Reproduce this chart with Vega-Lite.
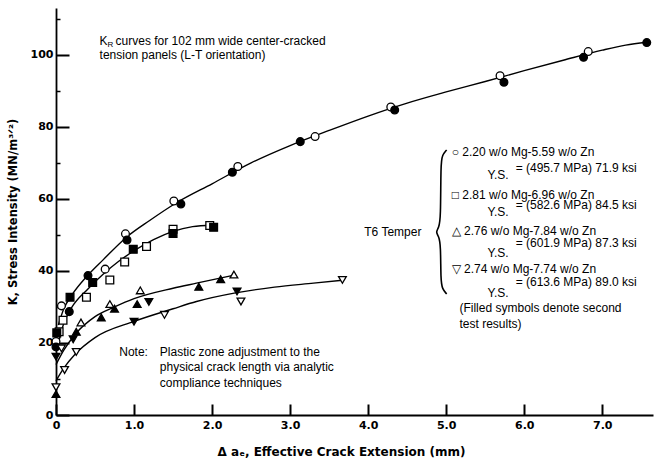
{
  "$schema": "https://vega.github.io/schema/vega-lite/v6.json",
  "width": 597,
  "height": 407,
  "autosize": {"type": "none"},
  "padding": {"left": 56, "top": 8, "right": 1, "bottom": 50},
  "background": "white",
  "config": {"view": {"stroke": null}, "font": "Liberation Sans"},
  "resolve": {"axis": {"y": "independent"}},
  "datasets": {
    "points": [
      {"series": "A", "test": "first", "x": 0, "y": 20.4},
      {"series": "A", "test": "first", "x": 0.07, "y": 30.3},
      {"series": "A", "test": "first", "x": 0.63, "y": 40.5},
      {"series": "A", "test": "first", "x": 0.89, "y": 50.3},
      {"series": "A", "test": "first", "x": 1.51, "y": 59.4},
      {"series": "A", "test": "first", "x": 2.33, "y": 69},
      {"series": "A", "test": "first", "x": 3.32, "y": 77.3},
      {"series": "A", "test": "first", "x": 4.29, "y": 85.5},
      {"series": "A", "test": "first", "x": 5.69, "y": 94.2},
      {"series": "A", "test": "first", "x": 6.82, "y": 100.9},
      {"series": "A", "test": "second", "x": 0, "y": 18.9},
      {"series": "A", "test": "second", "x": 0.17, "y": 28.7},
      {"series": "A", "test": "second", "x": 0.41, "y": 38.7},
      {"series": "A", "test": "second", "x": 0.91, "y": 48.6},
      {"series": "A", "test": "second", "x": 1.6, "y": 58.6},
      {"series": "A", "test": "second", "x": 2.26, "y": 67.4},
      {"series": "A", "test": "second", "x": 3.13, "y": 75.9},
      {"series": "A", "test": "second", "x": 4.34, "y": 84.7},
      {"series": "A", "test": "second", "x": 5.74, "y": 92.4},
      {"series": "A", "test": "second", "x": 6.76, "y": 99.3},
      {"series": "A", "test": "second", "x": 7.57, "y": 103.4},
      {"series": "B", "test": "first", "x": 0.04, "y": 23.1},
      {"series": "B", "test": "first", "x": 0.09, "y": 26.3},
      {"series": "B", "test": "first", "x": 0.39, "y": 32.7},
      {"series": "B", "test": "first", "x": 0.69, "y": 37.5},
      {"series": "B", "test": "first", "x": 0.88, "y": 42.5},
      {"series": "B", "test": "first", "x": 1.16, "y": 46.8},
      {"series": "B", "test": "first", "x": 1.5, "y": 51.6},
      {"series": "B", "test": "first", "x": 1.97, "y": 52.6},
      {"series": "B", "test": "second", "x": 0.01, "y": 22.8},
      {"series": "B", "test": "second", "x": 0.18, "y": 32.7},
      {"series": "B", "test": "second", "x": 0.47, "y": 36.8},
      {"series": "B", "test": "second", "x": 0.99, "y": 46},
      {"series": "B", "test": "second", "x": 1.5, "y": 50.4},
      {"series": "B", "test": "second", "x": 2.02, "y": 52.1},
      {"series": "C", "test": "first", "x": 0.32, "y": 25.7},
      {"series": "C", "test": "first", "x": 0.69, "y": 30.8},
      {"series": "C", "test": "first", "x": 1.08, "y": 34.6},
      {"series": "C", "test": "first", "x": 2.28, "y": 39},
      {"series": "C", "test": "second", "x": 0, "y": 5.8},
      {"series": "C", "test": "second", "x": 0.26, "y": 23.1},
      {"series": "C", "test": "second", "x": 0.58, "y": 27.1},
      {"series": "C", "test": "second", "x": 0.75, "y": 29.5},
      {"series": "C", "test": "second", "x": 1.04, "y": 30.8},
      {"series": "C", "test": "second", "x": 1.83, "y": 35.6},
      {"series": "C", "test": "second", "x": 2.11, "y": 37.7},
      {"series": "D", "test": "first", "x": 0, "y": 7.7},
      {"series": "D", "test": "first", "x": 0.07, "y": 18.5},
      {"series": "D", "test": "first", "x": 0.11, "y": 12.5},
      {"series": "D", "test": "first", "x": 0.26, "y": 17.5},
      {"series": "D", "test": "first", "x": 1.39, "y": 27.8},
      {"series": "D", "test": "first", "x": 2.37, "y": 31.5},
      {"series": "D", "test": "first", "x": 3.67, "y": 37.5},
      {"series": "D", "test": "second", "x": 0, "y": 16.2},
      {"series": "D", "test": "second", "x": 0.22, "y": 21},
      {"series": "D", "test": "second", "x": 1.0, "y": 25.9},
      {"series": "D", "test": "second", "x": 1.19, "y": 31.4},
      {"series": "D", "test": "second", "x": 2.32, "y": 34.3}
    ],
    "curves": [
      {"series": "A", "x": 0.03, "y": 25}, {"series": "A", "x": 0.1, "y": 29.5}, {"series": "A", "x": 0.2, "y": 33.2},
      {"series": "A", "x": 0.4, "y": 38.6}, {"series": "A", "x": 0.6, "y": 43}, {"series": "A", "x": 0.9, "y": 49.3},
      {"series": "A", "x": 1.2, "y": 54}, {"series": "A", "x": 1.55, "y": 59}, {"series": "A", "x": 2.0, "y": 64.2},
      {"series": "A", "x": 2.5, "y": 70}, {"series": "A", "x": 3.0, "y": 74.8}, {"series": "A", "x": 3.5, "y": 79},
      {"series": "A", "x": 4.0, "y": 83}, {"series": "A", "x": 4.5, "y": 86.6}, {"series": "A", "x": 5.0, "y": 89.7},
      {"series": "A", "x": 5.5, "y": 92.6}, {"series": "A", "x": 6.0, "y": 95.6}, {"series": "A", "x": 6.5, "y": 98.5},
      {"series": "A", "x": 7.0, "y": 101.3}, {"series": "A", "x": 7.3, "y": 102.7}, {"series": "A", "x": 7.57, "y": 103.5},
      {"series": "B", "x": 0.02, "y": 19}, {"series": "B", "x": 0.1, "y": 25.5}, {"series": "B", "x": 0.2, "y": 29.8},
      {"series": "B", "x": 0.4, "y": 34.8}, {"series": "B", "x": 0.6, "y": 39}, {"series": "B", "x": 0.8, "y": 42.6},
      {"series": "B", "x": 1.0, "y": 45.6}, {"series": "B", "x": 1.25, "y": 48.7}, {"series": "B", "x": 1.5, "y": 51},
      {"series": "B", "x": 1.75, "y": 52.3}, {"series": "B", "x": 2.0, "y": 52.7},
      {"series": "C", "x": 0, "y": 14}, {"series": "C", "x": 0.1, "y": 18}, {"series": "C", "x": 0.25, "y": 22.5},
      {"series": "C", "x": 0.5, "y": 27.3}, {"series": "C", "x": 0.75, "y": 30}, {"series": "C", "x": 1.0, "y": 32.3},
      {"series": "C", "x": 1.5, "y": 35.2}, {"series": "C", "x": 1.8, "y": 36.6}, {"series": "C", "x": 2.28, "y": 38.8},
      {"series": "D", "x": 0, "y": 9.5}, {"series": "D", "x": 0.1, "y": 13}, {"series": "D", "x": 0.25, "y": 17},
      {"series": "D", "x": 0.5, "y": 21.5}, {"series": "D", "x": 1.0, "y": 26}, {"series": "D", "x": 1.5, "y": 29.5},
      {"series": "D", "x": 1.8, "y": 31.5}, {"series": "D", "x": 2.3, "y": 33.9}, {"series": "D", "x": 2.8, "y": 35.5},
      {"series": "D", "x": 3.3, "y": 36.6}, {"series": "D", "x": 3.67, "y": 37.4}
    ],
    "brace": [
      {"o": 1, "x": 5.006, "y": 73.6}, {"o": 2, "x": 4.95, "y": 72.2}, {"o": 3, "x": 4.93, "y": 69.8},
      {"o": 4, "x": 4.93, "y": 54.4}, {"o": 5, "x": 4.905, "y": 52}, {"o": 6, "x": 4.865, "y": 50.8},
      {"o": 7, "x": 4.905, "y": 49.6}, {"o": 8, "x": 4.93, "y": 47.2}, {"o": 9, "x": 4.93, "y": 37.4},
      {"o": 10, "x": 4.95, "y": 35}, {"o": 11, "x": 5.006, "y": 33.6}
    ],
    "labels": [
      {"x": 0.558, "y": 103.7, "text": "K"},
      {"x": 0.763, "y": 103.7, "text": "curves for 102 mm wide center-cracked"},
      {"x": 0.558, "y": 100.0, "text": "tension panels (L-T orientation)"},
      {"x": 0.81, "y": 17.5, "text": "Note:"},
      {"x": 1.33, "y": 17.5, "text": "Plastic zone adjustment to the"},
      {"x": 1.33, "y": 13.2, "text": "physical crack length via analytic"},
      {"x": 1.33, "y": 8.9, "text": "compliance techniques"},
      {"x": 3.95, "y": 50.8, "text": "T6 Temper"},
      {"x": 5.07, "y": 72.9, "text": "○ 2.20 w/o Mg-5.59 w/o Zn"},
      {"x": 5.53, "y": 66.7, "text": "Y.S."},
      {"x": 5.89, "y": 68.6, "text": "= (495.7 MPa) 71.9 ksi"},
      {"x": 5.07, "y": 61.1, "text": "□ 2.81 w/o Mg-6.96 w/o Zn"},
      {"x": 5.53, "y": 56.4, "text": "Y.S."},
      {"x": 5.89, "y": 58.3, "text": "= (582.6 MPa) 84.5 ksi"},
      {"x": 5.07, "y": 51.1, "text": "△ 2.76 w/o Mg-7.84 w/o Zn"},
      {"x": 5.53, "y": 45.0, "text": "Y.S."},
      {"x": 5.89, "y": 47.7, "text": "= (601.9 MPa) 87.3 ksi"},
      {"x": 5.07, "y": 40.5, "text": "▽ 2.74 w/o Mg-7.74 w/o Zn"},
      {"x": 5.53, "y": 34.0, "text": "Y.S."},
      {"x": 5.89, "y": 36.8, "text": "= (613.6 MPa) 89.0 ksi"},
      {"x": 5.17, "y": 29.6, "text": "(Filled symbols denote second"},
      {"x": 5.17, "y": 25.3, "text": "test results)"}
    ]
  },
  "layer": [
    {
      "data": {"name": "brace"},
      "mark": {"type": "line", "interpolate": "basis", "color": "black", "strokeWidth": 1.6},
      "encoding": {
        "x": {"field": "x", "type": "quantitative"},
        "y": {
          "field": "y", "type": "quantitative",
          "axis": {
            "orient": "right", "offset": -597,
            "values": [10, 30, 50, 70, 90, 110],
            "grid": false, "domain": false, "labels": false, "title": null,
            "tickColor": "black", "tickWidth": 1.5, "tickSize": 4
          }
        },
        "order": {"field": "o"}
      }
    },
    {
      "data": {"name": "curves"},
      "mark": {"type": "line", "interpolate": "monotone", "color": "black", "strokeWidth": 1.4},
      "encoding": {
        "x": {
          "field": "x", "type": "quantitative",
          "scale": {"domain": [0, 7.65], "nice": false},
          "axis": {
            "values": [0, 1, 2, 3, 4, 5, 6, 7],
            "labelExpr": "datum.value === 0 ? '0' : format(datum.value, '.1f')",
            "grid": false, "domainColor": "black", "domainWidth": 1.8,
            "tickColor": "black", "tickWidth": 2, "tickSize": -11,
            "labelFont": "DejaVu Sans", "labelFontWeight": "bold", "labelFontSize": 11, "labelColor": "black",
            "labelPadding": 15, "labelFlush": false,
            "title": "Δ aₑ, Effective Crack Extension (mm)",
            "titleFont": "DejaVu Sans", "titleFontWeight": "bold", "titleFontSize": 12, "titleColor": "black",
            "titlePadding": 16, "titleX": 285
          }
        },
        "y": {
          "field": "y", "type": "quantitative",
          "scale": {"domain": [0, 113], "nice": false},
          "axis": {
            "orient": "left",
            "values": [0, 20, 40, 60, 80, 100],
            "grid": false, "domainColor": "black", "domainWidth": 1.8,
            "tickColor": "black", "tickWidth": 2, "tickSize": -13,
            "labelFont": "DejaVu Sans", "labelFontWeight": "bold", "labelFontSize": 11, "labelColor": "black",
            "labelPadding": 16, "labelFlush": false,
            "title": "K, Stress Intensity (MN/m³ᐟ²)",
            "titleFont": "DejaVu Sans", "titleFontWeight": "bold", "titleFontSize": 11.5, "titleColor": "black",
            "titlePadding": 12
          }
        },
        "detail": {"field": "series"}
      }
    },
    {
      "data": {"name": "points"},
      "mark": {"type": "point", "filled": false, "stroke": "black", "strokeWidth": 1.3, "opacity": 1},
      "encoding": {
        "x": {"field": "x", "type": "quantitative"},
        "y": {"field": "y", "type": "quantitative", "axis": null},
        "shape": {"field": "series", "type": "nominal", "legend": null,
          "scale": {"domain": ["A", "B", "C", "D"], "range": ["circle", "square", "triangle-up", "triangle-down"]}},
        "fill": {"field": "test", "type": "nominal", "legend": null,
          "scale": {"domain": ["first", "second"], "range": ["white", "black"]}},
        "size": {"value": 60}
      }
    },
    {
      "data": {"name": "labels"},
      "mark": {"type": "text", "align": "left", "baseline": "middle", "font": "Liberation Sans", "fontSize": 12, "color": "black"},
      "encoding": {
        "x": {"field": "x", "type": "quantitative"},
        "y": {"field": "y", "type": "quantitative", "axis": null},
        "text": {"field": "text"}
      }
    },
    {
      "data": {"values": [{"x": 0.558, "y": 103.7, "text": "R"}]},
      "mark": {"type": "text", "align": "left", "baseline": "middle", "font": "Liberation Sans", "fontSize": 8, "dx": 8, "dy": 4, "color": "black"},
      "encoding": {
        "x": {"field": "x", "type": "quantitative"},
        "y": {"field": "y", "type": "quantitative", "axis": null},
        "text": {"field": "text"}
      }
    }
  ]
}
